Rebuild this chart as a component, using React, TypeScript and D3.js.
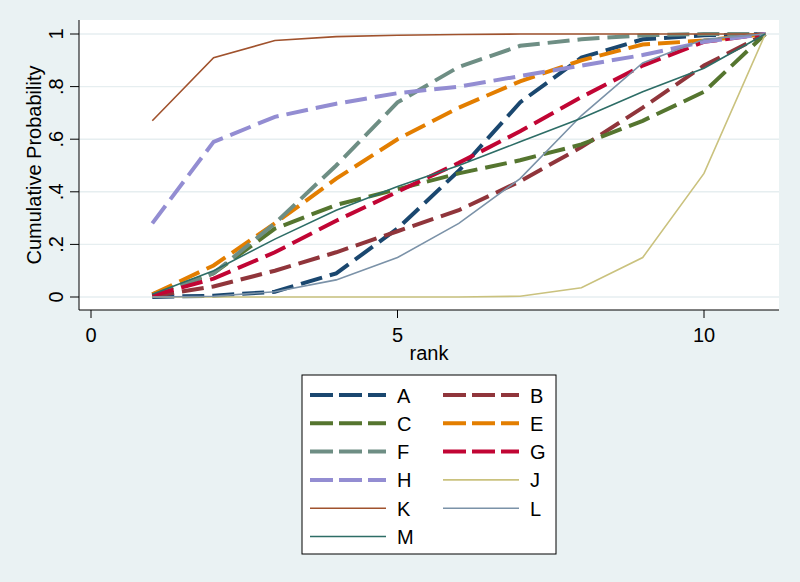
import * as React from 'react'
import * as d3 from 'd3'

const ranks = [1, 2, 3, 4, 5, 6, 7, 8, 9, 10, 11]
const names = ['A', 'B', 'C', 'E', 'F', 'G', 'H', 'J', 'K', 'L', 'M']
const colors = ['#1a476f', '#90353b', '#55752f', '#e37e00', '#6e8e84', '#c10534', '#938dd2', '#cac27e', '#a0522d', '#7b92a8', '#2d6d66']
const dashed = [true, true, true, true, true, true, true, false, false, false, false]

const A = [0, 0.005, 0.02, 0.09, 0.26, 0.48, 0.74, 0.91, 0.98, 0.995, 1]
const B = [0.003, 0.04, 0.10, 0.17, 0.25, 0.33, 0.44, 0.57, 0.72, 0.88, 1]
const C = [0.01, 0.09, 0.26, 0.35, 0.41, 0.47, 0.52, 0.58, 0.67, 0.78, 1]
const E = [0.01, 0.12, 0.28, 0.45, 0.60, 0.72, 0.82, 0.90, 0.96, 0.975, 1]
const F = [0.005, 0.09, 0.28, 0.50, 0.74, 0.875, 0.955, 0.98, 0.995, 1, 1]
const G = [0.005, 0.07, 0.17, 0.29, 0.40, 0.51, 0.63, 0.76, 0.88, 0.97, 1]
const H = [0.28, 0.59, 0.685, 0.735, 0.775, 0.80, 0.84, 0.88, 0.92, 0.97, 1]
const J = [0, 0, 0, 0, 0, 0, 0.003, 0.035, 0.15, 0.47, 1]
const K = [0.67, 0.91, 0.975, 0.99, 0.995, 0.998, 1, 1, 1, 1, 1]
const L = [0, 0.003, 0.02, 0.065, 0.15, 0.28, 0.45, 0.69, 0.89, 0.98, 1]
const M = [0.01, 0.10, 0.22, 0.33, 0.42, 0.50, 0.59, 0.68, 0.78, 0.87, 1]
const series = [A, B, C, E, F, G, H, J, K, L, M]

const yTicks = [0, 0.2, 0.4, 0.6, 0.8, 1]
const yTickLabels = ['0', '.2', '.4', '.6', '.8', '1']
const xTicks = [0, 5, 10]

const W = 800
const H_ = 582
const font = '"Liberation Sans", Arial, sans-serif'

export default function App() {
  const x = d3.scaleLinear().domain([0, 10]).range([91, 704])
  const y = d3.scaleLinear().domain([0, 1]).range([297, 34])
  const line = d3.line<number>().x((d, i) => x(ranks[i])).y(d => y(d))

  const plotL = 79, plotR = 779, plotT = 20, plotB = 310
  const legX = 302, legY = 375, legW = 254, legH = 179
  const rowH = 28.3

  return (
    <svg width={W} height={H_} style={{ position: 'absolute', left: 0, top: 0 }} fontFamily={font}>
      <rect width={W} height={H_} fill="#eaf2f3" />
      <rect x={plotL} y={plotT} width={plotR - plotL} height={plotB - plotT} fill="#ffffff" />
      {yTicks.map((t, i) => (
        <g key={'y' + i}>
          <line x1={plotL} x2={plotR} y1={y(t)} y2={y(t)} stroke="#e6eef0" strokeWidth={1.4} />
          <line x1={plotL - 9} x2={plotL} y1={y(t)} y2={y(t)} stroke="#000" strokeWidth={1} />
          <text transform={`translate(${plotL - 16},${y(t)}) rotate(-90)`} textAnchor="middle" fontSize={20} fill="#000">{yTickLabels[i]}</text>
        </g>
      ))}
      {xTicks.map((t, i) => (
        <g key={'x' + i}>
          <line x1={x(t)} x2={x(t)} y1={plotB} y2={plotB + 8} stroke="#000" strokeWidth={1} />
          <text x={x(t)} y={plotB + 32} textAnchor="middle" fontSize={20} fill="#000">{t}</text>
        </g>
      ))}
      <line x1={plotL} x2={plotL} y1={plotT} y2={plotB} stroke="#000" strokeWidth={1} />
      <line x1={plotL} x2={plotR} y1={plotB} y2={plotB} stroke="#000" strokeWidth={1} />
      <text transform={`translate(41,${(plotT + plotB) / 2}) rotate(-90)`} textAnchor="middle" fontSize={20} fill="#000">Cumulative Probability</text>
      <text x={(plotL + plotR) / 2} y={360} textAnchor="middle" fontSize={20} fill="#000">rank</text>

      {series.map((s, i) => (
        <path key={names[i]} d={line(s) || ''} fill="none" stroke={colors[i]}
          strokeWidth={dashed[i] ? 4 : 1.6}
          strokeDasharray={dashed[i] ? '22 8' : undefined} />
      ))}

      <rect x={legX} y={legY} width={legW} height={legH} fill="#ffffff" stroke="#000" strokeWidth={1} />
      {names.map((n, i) => {
        const col = i % 2
        const row = Math.floor(i / 2)
        const lx = legX + 8 + col * 133
        const ly = legY + 20 + row * rowH
        return (
          <g key={'leg' + n}>
            <line x1={lx} x2={lx + 76} y1={ly} y2={ly} stroke={colors[i]}
              strokeWidth={dashed[i] ? 4 : 1.6}
              strokeDasharray={dashed[i] ? '23 6' : undefined} />
            <text x={lx + 87} y={ly + 7.5} fontSize={20} fill="#000">{n}</text>
          </g>
        )
      })}
    </svg>
  )
}
